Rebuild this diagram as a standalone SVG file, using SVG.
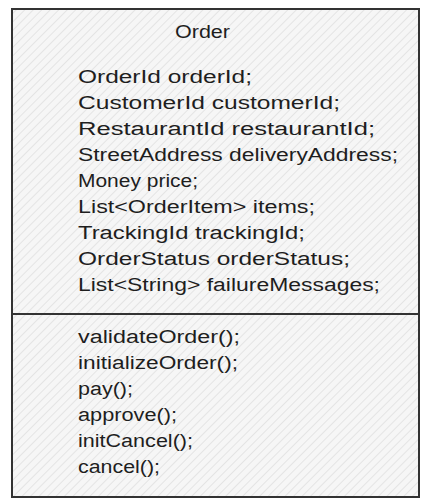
<svg xmlns="http://www.w3.org/2000/svg" width="440" height="504" viewBox="0 0 440 504">
<defs>
<pattern id="hatch" patternUnits="userSpaceOnUse" width="6" height="6" patternTransform="rotate(45)">
<rect width="6" height="6" fill="#f6f6f6"/>
<line x1="0" y1="0" x2="0" y2="6" stroke="#d9d9d9" stroke-width="1.2"/>
</pattern>
<style>
.t{font-family:"Liberation Sans","DejaVu Sans",sans-serif;font-size:18px;fill:#1e1e1e}
.b{fill:url(#hatch);stroke:#333;stroke-width:2}
.d{stroke:#333;stroke-width:2;fill:none}
</style>
</defs>
<rect width="440" height="504" fill="#ffffff"/>
<g id="order-class">
<rect class="b" x="12" y="9" width="407" height="488"/>
<line class="d" x1="12" y1="314" x2="420" y2="314"/>
<text class="t" x="175" y="38" textLength="55" lengthAdjust="spacingAndGlyphs">Order</text>
<g id="attributes">
<text class="t" x="78" y="83" textLength="174" lengthAdjust="spacingAndGlyphs">OrderId orderId;</text>
<text class="t" x="78" y="109" textLength="262" lengthAdjust="spacingAndGlyphs">CustomerId customerId;</text>
<text class="t" x="78" y="135" textLength="297" lengthAdjust="spacingAndGlyphs">RestaurantId restaurantId;</text>
<text class="t" x="78" y="161" textLength="320" lengthAdjust="spacingAndGlyphs">StreetAddress deliveryAddress;</text>
<text class="t" x="78" y="187" textLength="120" lengthAdjust="spacingAndGlyphs">Money price;</text>
<text class="t" x="78" y="213" textLength="237" lengthAdjust="spacingAndGlyphs">List&lt;OrderItem&gt; items;</text>
<text class="t" x="78" y="239" textLength="227" lengthAdjust="spacingAndGlyphs">TrackingId trackingId;</text>
<text class="t" x="78" y="265" textLength="272" lengthAdjust="spacingAndGlyphs">OrderStatus orderStatus;</text>
<text class="t" x="78" y="291" textLength="302" lengthAdjust="spacingAndGlyphs">List&lt;String&gt; failureMessages;</text>
</g>
<g id="methods">
<text class="t" x="78" y="343" textLength="162" lengthAdjust="spacingAndGlyphs">validateOrder();</text>
<text class="t" x="78" y="369" textLength="160" lengthAdjust="spacingAndGlyphs">initializeOrder();</text>
<text class="t" x="78" y="395" textLength="55" lengthAdjust="spacingAndGlyphs">pay();</text>
<text class="t" x="78" y="421" textLength="99" lengthAdjust="spacingAndGlyphs">approve();</text>
<text class="t" x="78" y="447" textLength="115" lengthAdjust="spacingAndGlyphs">initCancel();</text>
<text class="t" x="78" y="473" textLength="82" lengthAdjust="spacingAndGlyphs">cancel();</text>
</g>
</g>
<g id="connectors"/>
</svg>
